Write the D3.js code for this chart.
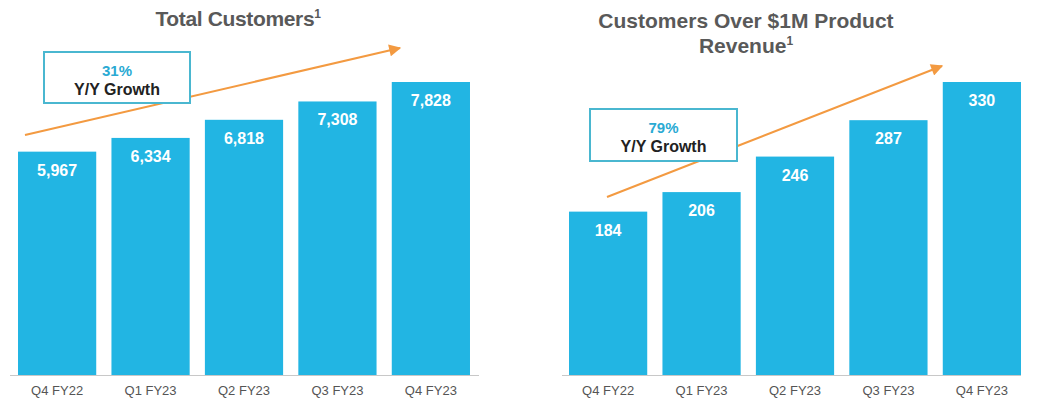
<!DOCTYPE html>
<html><head><meta charset="utf-8">
<script src="https://cdn.jsdelivr.net/npm/d3@7"></script>
<style>
body{margin:0;background:#fff;}
svg{display:block;font-family:"Liberation Sans",Arial,sans-serif;}
</style></head>
<body><svg id="c" width="1041" height="405"></svg>
<script>
const categories = ["Q4 FY22","Q1 FY23","Q2 FY23","Q3 FY23","Q4 FY23"];
const totalCustomers = [5967, 6334, 6818, 7308, 7828];
const millionCustomers = [184, 206, 246, 287, 330];
const growthLabels = ["31%", "79%"];
const titles = [["Total Customers"], ["Customers Over $1M Product", "Revenue"]];

const svg = d3.select("#c");
const BAR = "#22b5e3", ORANGE = "#f39a41", BOXC = "#4ab7d0";
svg.append("defs").append("marker").attr("id","ah").attr("viewBox","0 0 10 10")
  .attr("refX",9).attr("refY",5).attr("markerWidth",14).attr("markerHeight",12)
  .attr("markerUnits","userSpaceOnUse").attr("orient","auto")
  .append("path").attr("d","M0,0L10,5L0,10z").attr("fill",ORANGE);

const charts = [
  {values: totalCustomers, range:[10.4,477.6], axis:[10,479], title:titles[0], titleX:238, titleY:[26], ls:-0.35,
   arrow:[[25,135],[400,48]], box:[44,52,146,51], growth:growthLabels[0], fmt:d3.format(",")},
  {values: millionCustomers, range:[561.4,1028.6], axis:[562,1021], title:titles[1], titleX:746, titleY:[28,53], ls:0,
   arrow:[[607,197],[942,66]], box:[590,109,147,52], growth:growthLabels[1], fmt:d3.format(",")}
];

const baseY = 375, topY = 82;
charts.forEach(c => {
  const g = svg.append("g");
  const x = d3.scaleBand().domain(categories).range(c.range).paddingInner(0.163).paddingOuter(0.0815);
  const y = d3.scaleLinear().domain([0, d3.max(c.values)]).range([baseY, topY]);
  const data = categories.map((k,i)=>({k, v:c.values[i]}));

  g.append("line").attr("x1",c.arrow[0][0]).attr("y1",c.arrow[0][1])
    .attr("x2",c.arrow[1][0]).attr("y2",c.arrow[1][1])
    .attr("stroke",ORANGE).attr("stroke-width",2).attr("marker-end","url(#ah)");

  g.selectAll("rect.bar").data(data).join("rect").attr("class","bar")
    .attr("x",d=>x(d.k)).attr("width",x.bandwidth())
    .attr("y",d=>y(d.v)).attr("height",d=>baseY-y(d.v)).attr("fill",BAR);

  g.selectAll("text.val").data(data).join("text").attr("class","val")
    .attr("x",d=>x(d.k)+x.bandwidth()/2).attr("y",d=>y(d.v)+24)
    .attr("text-anchor","middle").attr("fill","#fff").attr("font-weight","bold")
    .attr("font-size",16).text(d=>c.fmt(d.v));

  g.append("line").attr("x1",c.axis[0]).attr("x2",c.axis[1]).attr("y1",baseY+0.5).attr("y2",baseY+0.5)
    .attr("stroke","#c8c8c8").attr("stroke-width",1);

  const ax = g.append("g").attr("transform",`translate(0,${baseY})`)
    .call(d3.axisBottom(x).tickSize(0).tickPadding(11));
  ax.select(".domain").remove();
  ax.selectAll("text").attr("font-size",13).attr("fill","#555").attr("font-family","Liberation Sans, Arial, sans-serif");

  c.title.forEach((t,i)=>{
    const tx = g.append("text").attr("x",c.titleX).attr("y",c.titleY[i]).attr("text-anchor","middle")
      .attr("font-size",21).attr("font-weight","bold").attr("fill","#595959").attr("letter-spacing",c.ls);
    tx.append("tspan").text(t);
    if(i===c.title.length-1) tx.append("tspan").attr("dy",-8).attr("font-size",12).text("1");
  });

  const [bx,by,bw,bh] = c.box;
  g.append("rect").attr("x",bx).attr("y",by).attr("width",bw).attr("height",bh)
    .attr("fill","#fff").attr("stroke",BOXC).attr("stroke-width",2);
  g.append("text").attr("x",bx+bw/2).attr("y",by+24).attr("text-anchor","middle")
    .attr("font-size",15).attr("font-weight","bold").attr("fill","#2aaad3").text(c.growth);
  g.append("text").attr("x",bx+bw/2).attr("y",by+43).attr("text-anchor","middle")
    .attr("font-size",16).attr("font-weight","bold").attr("fill","#222").text("Y/Y Growth");
});
</script></body></html>
